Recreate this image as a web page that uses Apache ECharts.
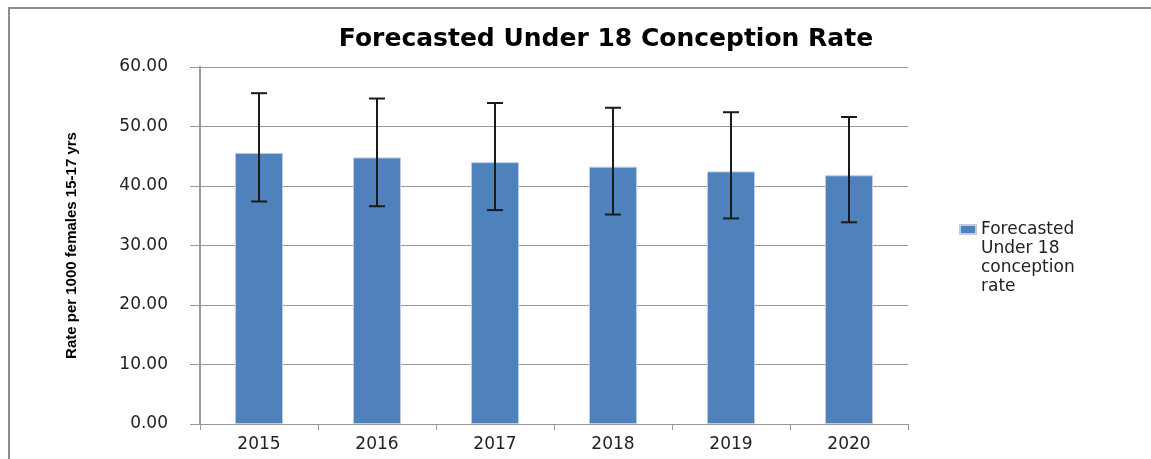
<!DOCTYPE html>
<html>
<head>
<meta charset="utf-8">
<script src="https://cdn.jsdelivr.net/npm/echarts@6/dist/echarts.min.js"></script>
<style>
  html, body { margin: 0; padding: 0; background: #fff; overflow: hidden; }
  #chart { width: 1151px; height: 459px; }
</style>
</head>
<body>
<div id="chart"></div>
<script>
// values
const years = ['2015', '2016', '2017', '2018', '2019', '2020'];
const rates = [45.55, 44.8, 44.0, 43.25, 42.45, 41.8];
const upperCI = [55.6, 54.7, 53.95, 53.15, 52.4, 51.6];
const lowerCI = [37.4, 36.6, 35.95, 35.2, 34.55, 33.9];

const seriesName = 'Forecasted Under 18 conception rate';
const font = 'DejaVu Sans, Verdana, sans-serif';

const chart = echarts.init(document.getElementById('chart'));

// error bar rows: [index, low, high]
const errRows = years.map((y, i) => [i, lowerCI[i], upperCI[i]]);

const option = {
    backgroundColor: '#fff',
    animation: false,
    // chart frame, only the top and left edges are visible in the crop
    graphic: [{
        type: 'polyline',
        silent: true,
        shape: { points: [[9, 470], [9, 8], [1160, 8]] },
        style: { stroke: '#8c8c8c', lineWidth: 2, fill: null }
    }],
    title: {
        text: 'Forecasted Under 18 Conception Rate',
        left: 601, top: 22, textAlign: 'center',
        textStyle: { fontFamily: font, fontWeight: 'bold', fontSize: 25, color: '#000' }
    },
    legend: {
        left: 954, top: 158,
        itemWidth: 16, itemHeight: 9,
        icon: 'rect',
        data: [seriesName],
        // blank lines above keep the swatch level with the first line
        formatter: () => '\n\n\nForecasted\nUnder 18\nconception\nrate',
        textStyle: { fontFamily: font, fontSize: 17, color: '#222', lineHeight: 19 }
    },
    grid: { left: 200, right: 243, top: 67, bottom: 35 },
    xAxis: {
        type: 'category',
        data: years,
        axisLine: { lineStyle: { color: '#999', width: 1 } },
        axisTick: { show: true, length: 6, lineStyle: { color: '#999' } },
        axisLabel: { margin: 12, fontFamily: font, fontSize: 17, color: '#222' }
    },
    yAxis: {
        type: 'value',
        min: 0, max: 60, interval: 10,
        name: 'Rate per 1000 females 15-17 yrs',
        nameLocation: 'middle',
        nameGap: 121,
        nameRotate: 90,
        nameTextStyle: { fontFamily: 'Liberation Sans Narrow, Arial Narrow, sans-serif', fontWeight: 'bold', fontSize: 15, color: '#000' },
        axisLine: { show: true, lineStyle: { color: '#999', width: 2 } },
        axisTick: { show: true, length: 10, lineStyle: { color: '#999' } },
        splitLine: { lineStyle: { color: '#999', width: 1 } },
        axisLabel: { margin: 32, fontFamily: font, fontSize: 17, color: '#222', formatter: v => v.toFixed(2) }
    },
    series: [
        {
            name: seriesName,
            type: 'bar',
            data: rates,
            barWidth: 48,
            itemStyle: { color: '#4F81BD', borderColor: '#B9CDE5', borderWidth: 1 }
        },
        {
            name: 'ci',
            type: 'custom',
            data: errRows,
            z: 10,
            renderItem(params, api) {
                const top = api.coord([api.value(0), api.value(2)]);
                const bot = api.coord([api.value(0), api.value(1)]);
                const x = top[0], half = 8;
                const style = { stroke: '#1a1a1a', lineWidth: 2 };
                return {
                    type: 'group',
                    children: [
                        { type: 'line', shape: { x1: x, y1: top[1], x2: x, y2: bot[1] }, style },
                        { type: 'line', shape: { x1: x - half, y1: top[1], x2: x + half, y2: top[1] }, style },
                        { type: 'line', shape: { x1: x - half, y1: bot[1], x2: x + half, y2: bot[1] }, style }
                    ]
                };
            },
            encode: { x: 0, y: [1, 2] }
        }
    ]
};

chart.setOption(option);
</script>
</body>
</html>
